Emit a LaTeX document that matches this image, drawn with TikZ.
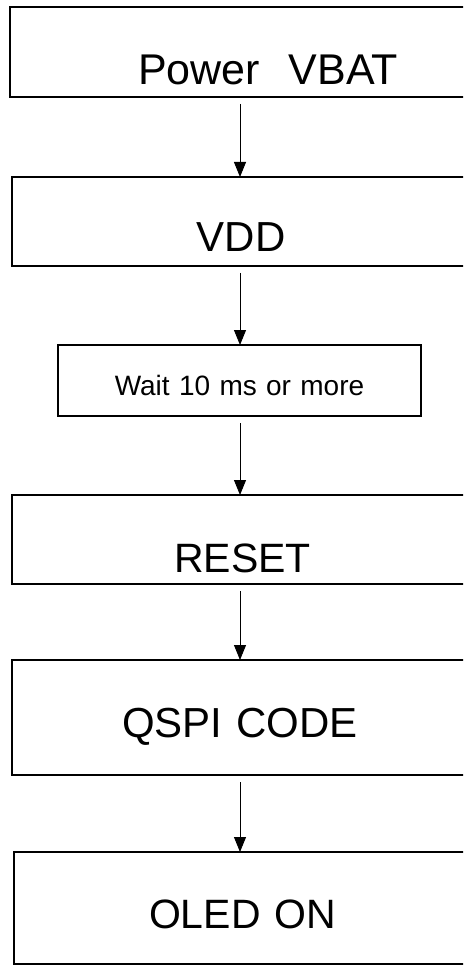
\documentclass[tikz,border=0pt]{standalone}
\usepackage{fontspec}
\setmainfont{Liberation Sans}
\usetikzlibrary{arrows.meta}

\begin{document}
\begin{tikzpicture}[x=1pt,y=-1pt,
    box/.style={draw,line width=1.5pt,inner sep=0pt,outer sep=0pt,align=center,anchor=base west},
    flow/.style={line width=0.9pt,shorten <=7pt,-{Triangle[length=15pt,width=12pt]}}]
   \useasboundingbox (0,0) rectangle (463,965);
   \clip (0,0) rectangle (463,965);
   \node[box,text width=516pt,text height=78pt,text depth=12pt,font=\fontsize{43}{50}\selectfont] (vbat) at (10,85) {Power\ \ VBAT};
   \node[box,text width=458pt,text height=75pt,text depth=14pt,font=\fontsize{42}{50}\selectfont] (vdd) at (12,252) {VDD};
   \node[box,text width=363pt,text height=50pt,text depth=21pt,font=\fontsize{28}{34}\selectfont] (wait) at (58,395) {Wait 10 ms or more};
   \node[box,text width=461pt,text height=77pt,text depth=12pt,font=\fontsize{41}{50}\selectfont] (reset) at (12,572) {RESET};
   \node[box,text width=456pt,text height=77pt,text depth=38pt,font=\fontsize{42}{50}\selectfont] (qspi) at (12,737) {QSPI CODE};
   \node[box,text width=457pt,text height=76pt,text depth=36pt,font=\fontsize{41}{50}\selectfont] (oled) at (14,928) {OLED ON};
   \coordinate (axis) at (240,0);
    \draw[flow] (vbat.south -| axis) -- (vdd.north -| axis);
    \draw[flow] (vdd.south -| axis) -- (wait.north -| axis);
    \draw[flow] (wait.south -| axis) -- (reset.north -| axis);
    \draw[flow] (reset.south -| axis) -- (qspi.north -| axis);
    \draw[flow] (qspi.south -| axis) -- (oled.north -| axis);
\end{tikzpicture}
\end{document}
